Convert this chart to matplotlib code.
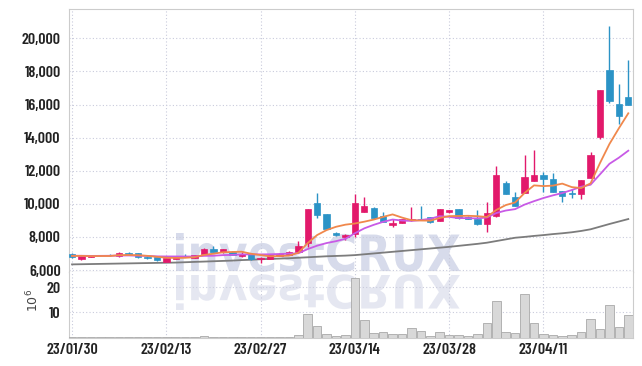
import matplotlib
matplotlib.use("Agg")
import matplotlib.pyplot as plt
import numpy as np
import pandas as pd
from matplotlib.textpath import TextPath
from matplotlib.patches import PathPatch
from matplotlib.transforms import Affine2D, IdentityTransform
from matplotlib.font_manager import FontProperties

# ---------------- data ----------------
dates = ["23/01/30", "23/01/31", "23/02/01", "23/02/02", "23/02/03", "23/02/06", "23/02/07",
         "23/02/08", "23/02/09", "23/02/10", "23/02/13", "23/02/14", "23/02/15", "23/02/16",
         "23/02/17", "23/02/20", "23/02/21", "23/02/22", "23/02/23", "23/02/24", "23/02/27",
         "23/02/28", "23/03/02", "23/03/03", "23/03/06", "23/03/07", "23/03/08", "23/03/09",
         "23/03/10", "23/03/13", "23/03/14", "23/03/15", "23/03/16", "23/03/17", "23/03/20",
         "23/03/21", "23/03/22", "23/03/23", "23/03/24", "23/03/27", "23/03/28", "23/03/29",
         "23/03/30", "23/03/31", "23/04/03", "23/04/04", "23/04/05", "23/04/06", "23/04/07",
         "23/04/10", "23/04/11", "23/04/12", "23/04/13", "23/04/14", "23/04/17", "23/04/18",
         "23/04/19", "23/04/20", "23/04/21", "23/04/24"]

opens = [6980, 6680, 6790, 6880, 6900, 6830, 7030, 7030, 6800, 6790,
         6500, 6660, 6860, 6740, 6950, 7270, 7070, 7110, 6860, 6940,
         6690, 6680, 6860, 6900, 7110, 7610, 10030, 9370, 8220, 8010,
         8160, 9520, 9760, 9260, 8700, 8860, 9000, 9080, 9180, 8980,
         9480, 9680, 9220, 9100, 8760, 9260, 11270, 10390, 10670, 11400,
         11740, 11480, 10770, 10670, 10570, 11580, 14050, 18080, 16030, 16470]
closes = [6770, 6860, 6820, 6900, 6880, 7030, 6900, 6760, 6710, 6600,
          6730, 6850, 6800, 6900, 7270, 7110, 7270, 6900, 6980, 6650,
          6710, 6900, 6990, 7110, 7470, 9680, 9320, 8480, 8110, 8110,
          10030, 9870, 9120, 8920, 8860, 9070, 9080, 9020, 8880, 9680,
          9620, 9120, 9080, 8760, 9440, 11740, 10590, 9880, 11620, 11740,
          11520, 10730, 10490, 10570, 11440, 12950, 16870, 16230, 15320, 15970]
highs = [7010, 6880, 6860, 6930, 6950, 7060, 7080, 7050, 6830, 6800,
         6760, 6870, 6950, 6930, 7300, 7470, 7290, 7130, 7080, 6960,
         6760, 6920, 7010, 7130, 7750, 9700, 10630, 9400, 8300, 8200,
         10570, 10430, 9780, 9520, 9100, 9090, 9820, 9850, 9200, 9700,
         9640, 9700, 9240, 9620, 10100, 12280, 11350, 10700, 12950, 13230,
         11920, 11880, 10790, 10900, 11460, 13100, 16890, 20740, 17240, 18660]
lows = [6740, 6620, 6760, 6860, 6860, 6800, 6880, 6740, 6690, 6570,
        6480, 6640, 6780, 6720, 6920, 7090, 7050, 6880, 6800, 6630,
        6400, 6650, 6840, 6880, 7090, 7400, 9120, 8450, 8050, 7820,
        8010, 9480, 9100, 8900, 8620, 8840, 8980, 9000, 8820, 8960,
        9460, 9100, 9060, 8740, 8270, 9180, 10570, 9860, 10650, 11380,
        10730, 10710, 10120, 10350, 10320, 11560, 13900, 16100, 14840, 15950]
# closes of the days before the window (for the moving averages)
prior_closes = [6850, 6900, 6870, 6830, 6880, 6850, 6900, 6860, 6880]
# long (60-day) moving average
ma60 = [6340, 6350, 6360, 6370, 6380, 6390, 6400, 6410, 6420, 6430,
        6440, 6450, 6470, 6490, 6510, 6530, 6550, 6570, 6600, 6620,
        6650, 6670, 6690, 6710, 6740, 6770, 6800, 6830, 6850, 6870,
        6900, 6950, 7000, 7050, 7100, 7150, 7200, 7250, 7300, 7350,
        7400, 7460, 7520, 7580, 7650, 7750, 7850, 7950, 8000, 8060,
        8110, 8170, 8220, 8280, 8360, 8460, 8620, 8780, 8930, 9080]
# volume in millions
volumes = [0.1, 0.1, 0.1, 0.1, 0.1, 0.1, 0.1, 0.1, 0.1, 0.1,
           0.1, 0.1, 0.1, 0.1, 0.5, 0.1, 0.1, 0.1, 0.1, 0.1,
           0.2, 0.2, 0.2, 0.3, 1.0, 9.3, 4.6, 1.4, 0.6, 1.0,
           23.5, 6.9, 1.7, 2.1, 1.3, 1.3, 3.7, 2.6, 0.6, 2.0,
           0.9, 0.9, 0.4, 1.3, 5.7, 14.6, 2.1, 1.7, 17.4, 5.9,
           1.3, 0.9, 0.4, 0.9, 2.0, 7.5, 3.2, 13.0, 4.0, 9.1]
price_ticks = [6000, 8000, 10000, 12000, 14000, 16000, 18000, 20000]
vol_ticks = [10, 20]
xtick_idx = [0, 10, 20, 30, 40, 50]

# ---------------- style ----------------
UP = "#e2196b"
DOWN = "#2b93c6"
MA5_C = "#f0884c"
MA10_C = "#c85ae6"
MA60_C = "#7c7c7c"
GRID = "#c9cbdc"
TXT = "#222222"
LABEL_FONT = ["Barlow Condensed", "DejaVu Sans"]

W, H = 642, 366
fig = plt.figure(figsize=(W / 100, H / 100), dpi=100)
fig.patch.set_facecolor("white")

left = 69 / W
right = 633 / W
ax = fig.add_axes([left, 1 - 272 / H, right - left, (272 - 9) / H])
axv = fig.add_axes([left, 1 - 337.5 / H, right - left, (337.5 - 272) / H], sharex=ax)

n = len(closes)
x = np.arange(n)
o = np.array(opens, float)
c = np.array(closes, float)
hi = np.array(highs, float)
lo = np.array(lows, float)
up = c >= o
cols = np.where(up, UP, DOWN)

# moving averages
allc = pd.Series(prior_closes + closes, dtype=float)
ma5 = allc.rolling(5).mean().to_numpy()[len(prior_closes):]
ma10 = allc.rolling(10).mean().to_numpy()[len(prior_closes):]

# watermark
fp = FontProperties(family="DejaVu Sans", weight="bold")
tp = TextPath((0, 0), "investCRUX", size=100, prop=fp)
ext = tp.get_extents()
x0p, x1p = 176, 460
top_img, base_img = 233, 271
sx = (x1p - x0p) / ext.width
sy = (base_img - top_img) / ext.y1
tx = x0p - ext.x0 * sx
wm = Affine2D().scale(sx, sy).translate(tx, H - base_img).transform_path(tp)
ax.add_patch(PathPatch(wm, transform=IdentityTransform(), facecolor="#cdd2e6",
                       edgecolor="none", alpha=0.8, zorder=0.5))
wm2 = Affine2D().scale(sx, -sy * 0.92).translate(tx, H - 275).transform_path(tp)
axv.add_patch(PathPatch(wm2, transform=IdentityTransform(), facecolor="#e3e5f0",
                        edgecolor="none", alpha=0.9, zorder=0.5))

# candles
ax.vlines(x, lo, hi, colors=cols, linewidth=1.0, zorder=3)
body_b = np.minimum(o, c)
body_h = np.maximum(np.abs(c - o), 25)
ax.bar(x, body_h, bottom=body_b, width=0.68, color=cols, edgecolor=cols,
       linewidth=0.5, zorder=4)

ax.plot(x, ma60, color=MA60_C, linewidth=1.3, zorder=2)
ax.plot(x, ma10, color=MA10_C, linewidth=1.3, zorder=5)
ax.plot(x, ma5, color=MA5_C, linewidth=1.3, zorder=5)

# volume
axv.bar(x, volumes, width=0.92, color="#d8d8d8", edgecolor="#a9a9a9",
        linewidth=0.6, zorder=3)

# axes config
ax.set_xlim(-0.32, 59.5)
ax.set_ylim(5880, 21770)
axv.set_ylim(0, 26)

ax.set_yticks(price_ticks)
ax.set_yticklabels([f"{v:,}" for v in price_ticks])
axv.set_yticks(vol_ticks)
axv.set_yticklabels([str(v) for v in vol_ticks])
axv.set_xticks(xtick_idx)
axv.set_xticklabels([dates[i] for i in xtick_idx])
ax.tick_params(axis="x", labelbottom=False, length=0)

for a in (ax, axv):
    a.grid(True, linestyle=(0, (1, 2)), color=GRID, linewidth=0.8, zorder=0)
    a.set_axisbelow(True)
    a.tick_params(length=0, pad=6, colors=TXT, labelsize=11.5)
    for lab in a.get_yticklabels() + a.get_xticklabels():
        lab.set_fontfamily(LABEL_FONT)
        lab.set_fontweight(600)
        lab.set_color(TXT)
    for s in a.spines.values():
        s.set_color("#cccccc")
        s.set_linewidth(0.8)
ax.spines["bottom"].set_color("#b0b0b0")
axv.spines["top"].set_visible(False)
axv.tick_params(axis="x", pad=4)

fig.text(33 / W, 1 - 300 / H, r"$10^6$", rotation=90, ha="center", va="center",
         fontsize=9, color="#444444")

fig.savefig("out.png", dpi=100)
